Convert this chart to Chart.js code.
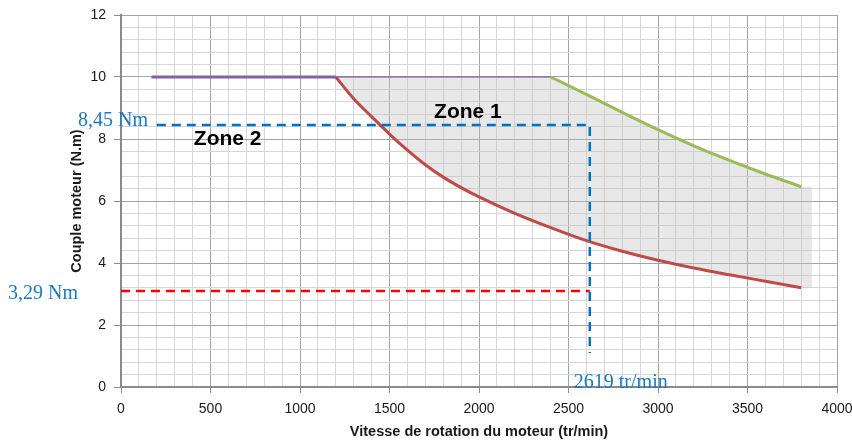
<!DOCTYPE html>
<html><head><meta charset="utf-8">
<script src="https://cdn.jsdelivr.net/npm/chart.js@4/dist/chart.umd.min.js"></script>
<style>html,body{margin:0;padding:0;background:#fff}#wrap{width:852px;height:441px;position:relative}</style>
</head><body><div id="wrap"><canvas id="c" width="852" height="441"></canvas></div>
<script>
// ---- data ----
const purpleSpeed = [170, 1200];
const purpleTorque = [10, 10];
const plateauSpeed = [1200, 2400];
const plateauTorque = [10, 10];
const redSpeed = [1200,1300,1400,1500,1600,1700,1800,1900,2000,2200,2400,2600,2800,3000,3200,3400,3600,3800];
const redTorque = [10,9.3,8.72,8.16,7.64,7.17,6.77,6.43,6.13,5.6,5.14,4.72,4.38,4.09,3.84,3.62,3.41,3.2];
const greenSpeed = [2400,2600,2800,3000,3200,3400,3600,3800];
const greenTorque = [10,9.44,8.86,8.3,7.78,7.31,6.87,6.46];
const zoneEdgeSpeed = 3860;
const markSpeed = 2619;
const markTorqueHigh = 8.45;
const markTorqueLow = 3.1;
const blueStartSpeed = 200;
const blueEndTorque = 1.1;
const xTickLabels = [0,500,1000,1500,2000,2500,3000,3500,4000];
const yTickLabels = [0,2,4,6,8,10,12];
const zone1Label = {text:'Zone 1', speed:1938, torque:8.87};
const zone2Label = {text:'Zone 2', speed:596, torque:8.0};

// ---- derived tables ----
const pts = (xs, ys) => xs.map((v,i)=>({x:v, y:ys[i]}));
const zoneTop = redSpeed.map(s => ({x:s, y: s <= plateauSpeed[1] ? plateauTorque[0] : greenTorque[greenSpeed.indexOf(s)]}));
zoneTop.push({x:zoneEdgeSpeed, y:greenTorque[greenTorque.length-1]});
const zoneBottom = pts(redSpeed, redTorque);
zoneBottom.push({x:zoneEdgeSpeed, y:redTorque[redTorque.length-1]});

const near = (v, list) => list.some(t => Math.abs(t - v) < 1e-6);

const textPlugin = {
  id:'txt',
  afterDatasetsDraw(chart){
    const {ctx, scales:{x, y}} = chart;
    ctx.save();
    ctx.fillStyle = '#000';
    ctx.font = 'bold 21px "Liberation Sans", Arial, sans-serif';
    ctx.textAlign = 'center'; ctx.textBaseline = 'middle';
    ctx.fillText(zone1Label.text, x.getPixelForValue(zone1Label.speed), y.getPixelForValue(zone1Label.torque));
    ctx.fillText(zone2Label.text, x.getPixelForValue(zone2Label.speed), y.getPixelForValue(zone2Label.torque));
    ctx.fillStyle = '#1B78C2';
    ctx.font = '20px "Liberation Serif", "Times New Roman", serif';
    ctx.textBaseline = 'alphabetic';
    ctx.textAlign = 'right';
    ctx.fillText(String(markTorqueHigh).replace('.', ',') + ' Nm', x.left + 27, y.getPixelForValue(markTorqueHigh) + 1);
    ctx.textAlign = 'left';
    ctx.fillText('3,29 Nm', 8, y.getPixelForValue(markTorqueLow) + 8);
    ctx.fillText(markSpeed + ' tr/min', x.getPixelForValue(markSpeed) - 16, y.bottom + 1);
    ctx.restore();
  }
};

new Chart(document.getElementById('c'), {
  type:'line',
  data:{datasets:[
    {data:zoneTop, borderWidth:0, pointRadius:0, fill:'+1', backgroundColor:'rgba(190,190,190,0.36)', order:10, cubicInterpolationMode:'monotone'},
    {data:zoneBottom, borderWidth:0, pointRadius:0, fill:false, order:11, cubicInterpolationMode:'monotone'},
    {data:pts(plateauSpeed, plateauTorque), borderColor:'rgba(128,100,162,0.6)', borderWidth:2, pointRadius:0, fill:false, order:3},
    {data:pts(purpleSpeed, purpleTorque), borderColor:'#8064A2', borderWidth:3, pointRadius:0, fill:false, order:2},
    {data:pts(greenSpeed, greenTorque), borderColor:'#9BBB59', borderWidth:3, pointRadius:0, fill:false, order:2, cubicInterpolationMode:'monotone'},
    {data:pts(redSpeed, redTorque), borderColor:'#BE4B48', borderWidth:3, pointRadius:0, fill:false, order:2, cubicInterpolationMode:'monotone'},
    {data:[{x:blueStartSpeed,y:markTorqueHigh},{x:markSpeed,y:markTorqueHigh},{x:markSpeed,y:blueEndTorque}], borderColor:'#0070C0', borderWidth:2.5, borderDash:[9,6], pointRadius:0, fill:false, order:1},
    {data:[{x:0,y:markTorqueLow},{x:markSpeed,y:markTorqueLow}], borderColor:'#FF0000', borderWidth:2.5, borderDash:[9,6], pointRadius:0, fill:false, order:1}
  ]},
  options:{
    responsive:false, animation:false, devicePixelRatio:1,
    layout:{padding:{top:15, right:15, left:0, bottom:0}},
    plugins:{legend:{display:false}, tooltip:{enabled:false}},
    scales:{
      x:{type:'linear', min:0, max:4000,
        afterFit:s=>{s.height=54; s.paddingLeft=0; s.paddingRight=0;},
        ticks:{stepSize:100, maxTicksLimit:1000, autoSkip:false, maxRotation:0, minRotation:0, padding:8, color:'#1a1a1a',
          font:{family:'"Liberation Sans", Arial, sans-serif', size:14},
          callback:v=>near(v, xTickLabels)?String(v):''},
        grid:{color:c=>near(c.tick.value, xTickLabels)?'#a3a3a3':'#d6d6d6', lineWidth:1, tickLength:6,
          tickColor:c=>near(c.tick.value, xTickLabels)?'#8c8c8c':'rgba(0,0,0,0)'},
        border:{color:'#8a8a8a', width:2},
        title:{display:true, text:'Vitesse de rotation du moteur (tr/min)', color:'#1a1a1a',
          font:{family:'"Liberation Sans", Arial, sans-serif', size:14.5, weight:'bold'}, padding:{top:0,bottom:0}}
      },
      y:{type:'linear', min:0, max:12,
        afterFit:s=>{s.width=121; s.paddingTop=0; s.paddingBottom=0;},
        ticks:{stepSize:0.4, maxTicksLimit:1000, autoSkip:false, padding:8, color:'#1a1a1a',
          font:{family:'"Liberation Sans", Arial, sans-serif', size:14},
          callback:v=>near(v, yTickLabels)?String(Math.round(v)):''},
        grid:{color:c=>near(c.tick.value, yTickLabels)?'#a3a3a3':'#d6d6d6', lineWidth:1, tickLength:7,
          tickColor:c=>near(c.tick.value, yTickLabels)?'#8c8c8c':'rgba(0,0,0,0)'},
        border:{color:'#8a8a8a', width:2},
        title:{display:true, text:'Couple moteur (N.m)', color:'#1a1a1a',
          font:{family:'"Liberation Sans", Arial, sans-serif', size:14.5, weight:'bold'}, padding:{top:68,bottom:0}}
      }
    }
  },
  plugins:[textPlugin]
});
</script></body></html>
